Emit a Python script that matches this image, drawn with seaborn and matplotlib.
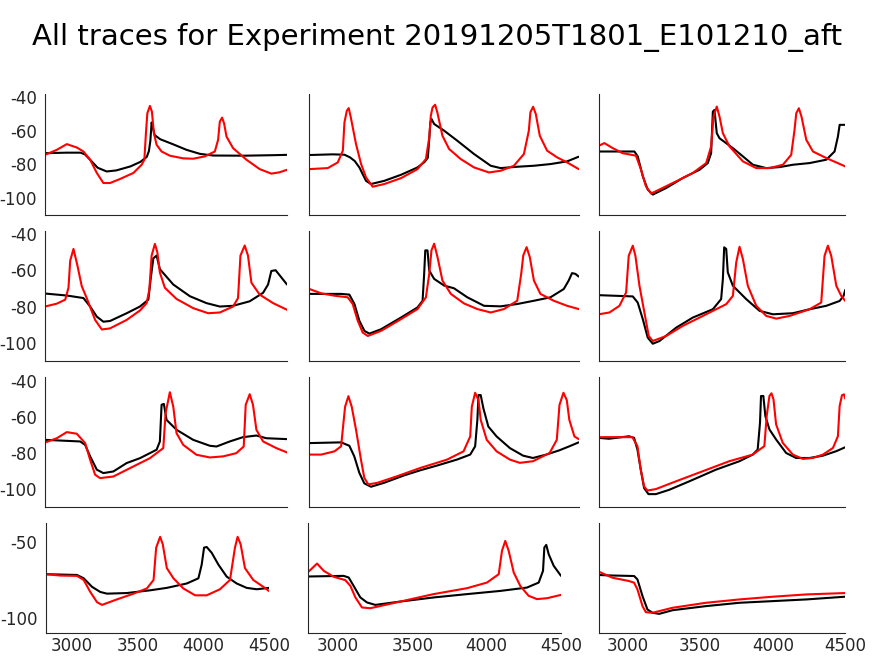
import matplotlib
matplotlib.use("Agg")
import matplotlib.pyplot as plt
import seaborn as sns

sns.set_style("white")
plt.rcParams["font.family"] = ["DejaVu Sans"]
plt.rcParams["axes.unicode_minus"] = False

TITLE = "All traces for Experiment 20191205T1801_E101210_aft"

# ---- traces: time (ms) and voltage (mV), black = recorded, red = model ----
# row 1
t_r1c1_k = [2800, 2950, 3050, 3080, 3120, 3170, 3233, 3300, 3400, 3470, 3515, 3530, 3540, 3549, 3558, 3570, 3610, 3700, 3794, 3888, 3981, 4200, 4400, 4500]
v_r1c1_k = [-73.3, -73.0, -73.0, -74.0, -77.5, -82.0, -84.2, -83.6, -81.2, -78.5, -75.5, -72.0, -66.0, -55.0, -58.0, -62.5, -65.0, -68.0, -71.3, -73.7, -74.7, -74.8, -74.5, -74.3]
t_r1c1_r = [2800, 2883, 2953, 3023, 3070, 3117, 3164, 3210, 3257, 3327, 3421, 3479, 3498, 3509, 3519, 3537, 3551, 3565, 3584, 3619, 3677, 3771, 3841, 3923, 3993, 4016, 4028, 4044, 4058, 4075, 4121, 4215, 4308, 4390, 4448, 4500]
v_r1c1_r = [-74.3, -71.3, -67.9, -69.9, -72.3, -77.2, -85.1, -91.1, -91.1, -88.7, -85.1, -80.2, -77.2, -61.4, -49.5, -45.1, -48.5, -61.4, -68.3, -72.3, -74.8, -76.4, -76.6, -75.2, -72.3, -65.3, -54.5, -52.1, -55.5, -63.4, -70.3, -77.2, -82.8, -85.5, -84.7, -83.2]

t_r1c2_k = [2805, 2950, 3025, 3060, 3090, 3119, 3161, 3192, 3276, 3381, 3485, 3530, 3550, 3559, 3566, 3573, 3590, 3653, 3736, 3841, 3946, 4008, 4113, 4218, 4322, 4427, 4500]
v_r1c2_k = [-74.4, -74.0, -74.2, -75.8, -78.0, -81.8, -89.8, -91.7, -89.8, -86.2, -81.8, -78.5, -76.0, -65.0, -55.0, -52.9, -55.9, -59.9, -65.9, -73.8, -80.8, -82.2, -81.4, -80.8, -79.8, -78.2, -75.4]
t_r1c2_r = [2805, 2920, 2983, 3015, 3025, 3040, 3052, 3065, 3098, 3130, 3161, 3203, 3276, 3381, 3485, 3538, 3559, 3569, 3580, 3596, 3610, 3642, 3684, 3757, 3841, 3935, 4008, 4092, 4155, 4186, 4196, 4213, 4230, 4255, 4301, 4364, 4427, 4500]
v_r1c2_r = [-82.8, -82.2, -78.8, -71.8, -55.0, -48.0, -46.4, -51.9, -67.9, -79.8, -87.8, -93.3, -91.7, -88.2, -82.8, -76.8, -63.9, -50.9, -46.0, -44.4, -49.0, -62.9, -70.8, -76.8, -81.8, -84.8, -83.8, -80.8, -73.8, -59.9, -48.9, -45.6, -50.0, -62.9, -71.8, -75.8, -78.8, -82.8]

t_r1c3_k = [2800, 3046, 3069, 3104, 3138, 3173, 3265, 3380, 3495, 3552, 3575, 3587, 3598, 3614, 3633, 3725, 3794, 3863, 3955, 4047, 4139, 4254, 4369, 4426, 4449, 4461, 4500]
v_r1c3_k = [-72.3, -72.3, -75.2, -87.1, -95.0, -98.0, -94.1, -88.1, -83.2, -79.2, -73.3, -48.5, -47.5, -61.4, -64.4, -70.3, -75.2, -80.2, -82.2, -81.6, -80.2, -79.2, -77.2, -72.3, -63.4, -56.4, -56.4]
t_r1c3_r = [2800, 2839, 2897, 2965, 3057, 3092, 3126, 3161, 3218, 3334, 3449, 3541, 3575, 3591, 3614, 3633, 3656, 3702, 3794, 3886, 3978, 4070, 4127, 4150, 4162, 4180, 4198, 4231, 4277, 4369, 4500]
v_r1c3_r = [-68.9, -67.3, -70.3, -73.3, -74.8, -83.2, -93.1, -97.4, -95.0, -90.1, -85.1, -79.2, -69.3, -51.5, -45.5, -51.5, -61.4, -69.3, -78.2, -82.2, -82.2, -80.2, -74.3, -59.4, -49.5, -46.5, -51.5, -65.3, -72.3, -76.2, -81.2]

# row 2
t_r2c1_k = [2800, 2953, 3070, 3117, 3164, 3210, 3257, 3374, 3467, 3526, 3542, 3561, 3584, 3607, 3701, 3818, 3934, 4028, 4121, 4238, 4332, 4367, 4390, 4420, 4500]
v_r2c1_k = [-72.8, -73.9, -75.3, -80.0, -85.6, -88.4, -88.0, -83.7, -80.0, -76.2, -64.9, -53.3, -51.8, -59.3, -67.8, -74.3, -78.1, -80.0, -79.6, -77.1, -72.4, -67.8, -60.3, -59.9, -67.8]
t_r2c1_r = [2800, 2883, 2942, 2965, 2977, 3000, 3028, 3058, 3093, 3152, 3199, 3257, 3374, 3467, 3514, 3533, 3549, 3572, 3589, 3607, 3642, 3724, 3841, 3946, 4028, 4121, 4156, 4173, 4203, 4226, 4250, 4308, 4402, 4500]
v_r2c1_r = [-80.0, -78.4, -76.2, -69.6, -54.6, -48.1, -57.4, -68.7, -75.3, -87.4, -92.7, -92.1, -87.4, -82.2, -78.1, -70.6, -51.8, -45.3, -49.9, -61.2, -69.6, -75.8, -80.9, -83.7, -83.3, -80.0, -75.3, -51.8, -46.2, -51.8, -66.8, -73.4, -78.1, -81.8]

t_r2c2_k = [2805, 3004, 3056, 3088, 3119, 3151, 3182, 3255, 3381, 3485, 3517, 3527, 3534, 3548, 3559, 3590, 3653, 3715, 3799, 3904, 4008, 4113, 4218, 4322, 4406, 4437, 4458, 4479, 4500]
v_r2c2_k = [-73.0, -73.0, -73.4, -78.6, -87.9, -93.5, -95.0, -92.6, -86.1, -80.5, -76.8, -61.9, -48.9, -48.9, -60.1, -64.7, -68.4, -69.9, -74.9, -79.6, -79.9, -78.6, -76.8, -74.9, -70.3, -65.6, -61.5, -61.9, -63.4]
t_r2c2_r = [2805, 2879, 2962, 3046, 3077, 3109, 3140, 3172, 3255, 3381, 3485, 3538, 3559, 3573, 3590, 3611, 3642, 3695, 3778, 3862, 3946, 4029, 4113, 4138, 4151, 4172, 4192, 4218, 4259, 4343, 4427, 4500]
v_r2c2_r = [-70.3, -72.7, -74.0, -74.9, -78.6, -87.9, -94.4, -96.3, -93.5, -87.0, -81.4, -74.9, -61.9, -48.9, -45.2, -52.6, -65.6, -73.0, -78.3, -81.4, -83.3, -81.4, -76.8, -61.9, -51.7, -47.1, -52.6, -65.6, -73.0, -76.8, -79.6, -81.4]

t_r2c3_k = [2800, 3035, 3069, 3104, 3138, 3173, 3219, 3334, 3449, 3587, 3644, 3656, 3665, 3679, 3690, 3725, 3817, 3909, 4001, 4139, 4254, 4369, 4461, 4488, 4500]
v_r2c3_k = [-73.7, -74.4, -77.8, -87.0, -97.2, -100.6, -99.1, -91.7, -86.1, -81.5, -75.9, -64.8, -47.2, -48.1, -61.1, -68.5, -75.9, -82.4, -84.3, -83.7, -81.5, -79.6, -76.9, -74.1, -70.7]
t_r2c3_r = [2800, 2874, 2943, 2989, 3007, 3035, 3053, 3081, 3115, 3145, 3173, 3265, 3380, 3518, 3679, 3725, 3748, 3771, 3794, 3828, 3886, 3955, 4024, 4116, 4254, 4334, 4357, 4380, 4403, 4438, 4472, 4500]
v_r2c3_r = [-84.3, -83.3, -79.6, -72.2, -51.9, -46.3, -51.9, -68.5, -83.3, -96.3, -99.1, -96.3, -90.7, -85.2, -78.7, -74.1, -55.6, -46.9, -53.7, -68.5, -79.6, -85.2, -86.7, -85.2, -81.5, -77.8, -51.9, -46.3, -51.9, -68.5, -74.1, -76.9]

# row 3
t_r3c1_k = [2800, 3047, 3082, 3117, 3164, 3210, 3280, 3374, 3467, 3584, 3607, 3619, 3635, 3654, 3724, 3841, 3958, 4005, 4098, 4191, 4285, 4355, 4500]
v_r3c1_k = [-72.8, -73.7, -75.6, -82.0, -89.4, -91.3, -90.4, -85.7, -83.0, -78.3, -73.7, -53.3, -52.8, -61.7, -67.2, -72.8, -76.1, -76.5, -73.7, -71.3, -70.4, -71.9, -72.4]
t_r3c1_r = [2800, 2883, 2953, 3023, 3082, 3117, 3152, 3187, 3280, 3421, 3537, 3631, 3647, 3677, 3701, 3724, 3771, 3864, 3958, 4051, 4144, 4196, 4210, 4238, 4261, 4285, 4332, 4425, 4500]
v_r3c1_r = [-74.3, -71.9, -68.5, -69.4, -74.6, -83.9, -92.2, -94.1, -93.2, -87.6, -83.0, -77.4, -58.0, -46.3, -54.3, -69.1, -75.6, -81.1, -82.6, -82.0, -80.2, -76.5, -53.3, -47.4, -53.3, -67.2, -73.7, -77.4, -79.8]

t_r3c2_k = [2808, 3004, 3056, 3087, 3119, 3150, 3192, 3275, 3400, 3504, 3608, 3733, 3817, 3848, 3862, 3869, 3883, 3900, 3931, 3983, 4067, 4150, 4212, 4296, 4379, 4441, 4500]
v_r3c2_k = [-74.6, -74.2, -76.1, -82.0, -91.2, -97.0, -98.9, -96.7, -92.6, -89.7, -87.1, -83.8, -81.0, -76.4, -61.7, -47.9, -47.9, -55.3, -65.4, -70.9, -77.4, -81.6, -82.9, -81.0, -78.6, -76.4, -74.2]
t_r3c2_r = [2808, 2879, 2962, 3004, 3029, 3050, 3071, 3098, 3129, 3150, 3175, 3233, 3358, 3504, 3671, 3775, 3817, 3827, 3848, 3869, 3883, 3921, 3983, 4067, 4129, 4212, 4317, 4362, 4379, 4404, 4425, 4441, 4473, 4500]
v_r3c2_r = [-81.0, -81.0, -79.2, -76.4, -54.4, -48.5, -54.4, -67.2, -83.8, -93.9, -97.6, -96.7, -93.0, -88.4, -83.8, -79.2, -70.9, -54.4, -46.6, -50.7, -61.7, -72.8, -79.2, -83.8, -85.6, -84.7, -80.1, -72.8, -53.4, -46.6, -50.7, -61.7, -70.9, -72.4]

t_r3c3_k = [2800, 2871, 3009, 3044, 3067, 3090, 3113, 3143, 3194, 3286, 3424, 3608, 3770, 3862, 3896, 3912, 3919, 3935, 3949, 3977, 4023, 4092, 4161, 4253, 4346, 4438, 4500]
v_r3c3_k = [-71.7, -72.2, -70.8, -71.7, -78.2, -89.4, -99.6, -103.0, -103.0, -100.6, -95.9, -89.4, -84.7, -81.0, -78.2, -63.3, -48.4, -48.4, -59.6, -67.0, -72.6, -80.1, -82.9, -82.9, -81.6, -79.1, -76.9]
t_r3c3_r = [2800, 3032, 3067, 3090, 3113, 3136, 3194, 3332, 3516, 3700, 3862, 3942, 3958, 3977, 3991, 4005, 4023, 4069, 4138, 4207, 4276, 4346, 4415, 4449, 4461, 4477, 4491, 4500]
v_r3c3_r = [-71.3, -71.3, -76.3, -89.4, -98.7, -101.0, -100.2, -95.9, -90.3, -84.7, -81.0, -76.3, -59.6, -48.4, -46.9, -50.3, -64.2, -74.5, -81.0, -83.4, -82.9, -81.0, -77.3, -70.8, -54.0, -48.0, -47.5, -49.9]

# row 4
t_r4c1_k = [2803, 3038, 3089, 3152, 3215, 3266, 3417, 3594, 3721, 3873, 3961, 3986, 4004, 4024, 4062, 4113, 4176, 4252, 4328, 4404, 4500]
v_r4c1_k = [-71.5, -72.0, -74.2, -79.8, -83.2, -84.3, -83.9, -82.1, -80.5, -77.6, -74.2, -65.2, -54.0, -53.6, -57.4, -65.2, -73.1, -77.6, -80.5, -81.4, -80.5]
t_r4c1_r = [2803, 2911, 3038, 3089, 3139, 3190, 3228, 3341, 3468, 3569, 3620, 3640, 3670, 3690, 3721, 3771, 3847, 3936, 4024, 4125, 4201, 4239, 4259, 4282, 4315, 4378, 4454, 4500]
v_r4c1_r = [-71.5, -72.4, -72.6, -75.3, -83.2, -89.9, -91.7, -88.1, -84.3, -80.9, -75.3, -54.0, -46.9, -51.8, -67.5, -74.2, -80.9, -85.4, -85.4, -81.4, -75.3, -54.0, -46.9, -51.8, -67.5, -75.3, -79.8, -82.7]

t_r4c2_k = [2803, 3038, 3072, 3105, 3150, 3195, 3251, 3419, 3643, 3868, 4092, 4271, 4350, 4379, 4388, 4401, 4417, 4451, 4500]
v_r4c2_k = [-73.0, -72.6, -73.7, -79.2, -86.8, -90.1, -91.7, -89.5, -86.8, -84.6, -82.5, -80.3, -77.0, -69.3, -53.9, -52.2, -58.3, -66.0, -72.6]
t_r4c2_r = [2803, 2859, 2904, 2971, 3049, 3083, 3117, 3161, 3217, 3419, 3643, 3868, 4002, 4081, 4103, 4125, 4148, 4182, 4226, 4282, 4338, 4406, 4500]
v_r4c2_r = [-69.7, -64.5, -69.3, -73.2, -75.4, -79.2, -86.8, -93.4, -93.9, -89.5, -84.6, -80.7, -77.0, -71.5, -56.1, -49.6, -56.1, -70.4, -79.2, -85.7, -87.9, -87.3, -85.1]

t_r4c3_k = [2800, 2871, 3044, 3067, 3102, 3136, 3171, 3217, 3309, 3540, 3771, 4002, 4233, 4500]
v_r4c3_k = [-72.0, -72.3, -72.7, -74.9, -85.9, -94.7, -96.9, -97.6, -95.2, -92.5, -90.3, -89.2, -88.1, -86.3]
t_r4c3_r = [2800, 2894, 3009, 3044, 3067, 3102, 3125, 3171, 3309, 3540, 3771, 4002, 4233, 4500]
v_r4c3_r = [-69.8, -73.8, -76.0, -77.1, -81.5, -92.5, -96.5, -96.9, -93.6, -90.3, -88.1, -86.3, -84.8, -83.9]

x_ticks = [3000, 3500, 4000, 4500]
y_ticks_top = [-100, -80, -60, -40]
y_ticks_bottom = [-100, -50]

panels = [
    [(t_r1c1_k, v_r1c1_k, t_r1c1_r, v_r1c1_r), (t_r1c2_k, v_r1c2_k, t_r1c2_r, v_r1c2_r), (t_r1c3_k, v_r1c3_k, t_r1c3_r, v_r1c3_r)],
    [(t_r2c1_k, v_r2c1_k, t_r2c1_r, v_r2c1_r), (t_r2c2_k, v_r2c2_k, t_r2c2_r, v_r2c2_r), (t_r2c3_k, v_r2c3_k, t_r2c3_r, v_r2c3_r)],
    [(t_r3c1_k, v_r3c1_k, t_r3c1_r, v_r3c1_r), (t_r3c2_k, v_r3c2_k, t_r3c2_r, v_r3c2_r), (t_r3c3_k, v_r3c3_k, t_r3c3_r, v_r3c3_r)],
    [(t_r4c1_k, v_r4c1_k, t_r4c1_r, v_r4c1_r), (t_r4c2_k, v_r4c2_k, t_r4c2_r, v_r4c2_r), (t_r4c3_k, v_r4c3_k, t_r4c3_r, v_r4c3_r)],
]

# axes boxes in pixels (top, bottom) per row and (left, right) per column
W, H = 874, 656
rows_px = [(94, 214.7), (230.7, 360.7), (377.3, 506.7), (523.3, 632.7)]
cols_px = [(45, 287), (308.7, 578.7), (598.7, 845.3)]
cols_px_last = [(45.7, 269.3), (308.3, 561), (598.7, 845.3)]

fig = plt.figure(figsize=(W / 100, H / 100), dpi=100)
fig.suptitle(TITLE, fontsize=21, y=0.965, color="black")

for i, row in enumerate(panels):
    top, bot = rows_px[i]
    cols = cols_px_last if i == 3 else cols_px
    for j, (tk, vk, tr, vr) in enumerate(row):
        left, right = cols[j]
        ax = fig.add_axes([left / W, 1 - bot / H, (right - left) / W, (bot - top) / H])
        sns.lineplot(x=tk, y=vk, ax=ax, color="black", linewidth=1.5,
                     sort=False, estimator=None)
        sns.lineplot(x=tr, y=vr, ax=ax, color="red", linewidth=1.5,
                     sort=False, estimator=None)
        ax.set_xlim(2800, 4500)
        ax.set_ylim(-110, -38)
        ax.set_xticks(x_ticks)
        ax.set_yticks(y_ticks_bottom if i == 3 else y_ticks_top)
        ax.set_xlabel("")
        ax.set_ylabel("")
        for s in ["top", "right"]:
            ax.spines[s].set_visible(False)
        for s in ["left", "bottom"]:
            ax.spines[s].set_color("#262626")
            ax.spines[s].set_linewidth(0.8)
        ax.tick_params(direction="in", length=2.5, width=0.8, colors="#262626",
                       labelsize=12)
        ax.tick_params(axis="y", pad=6)
        ax.tick_params(axis="x", pad=3)
        if j != 0:
            ax.set_yticklabels([])
        if i != 3:
            ax.set_xticklabels([])

fig.savefig("out.png", dpi=100)
